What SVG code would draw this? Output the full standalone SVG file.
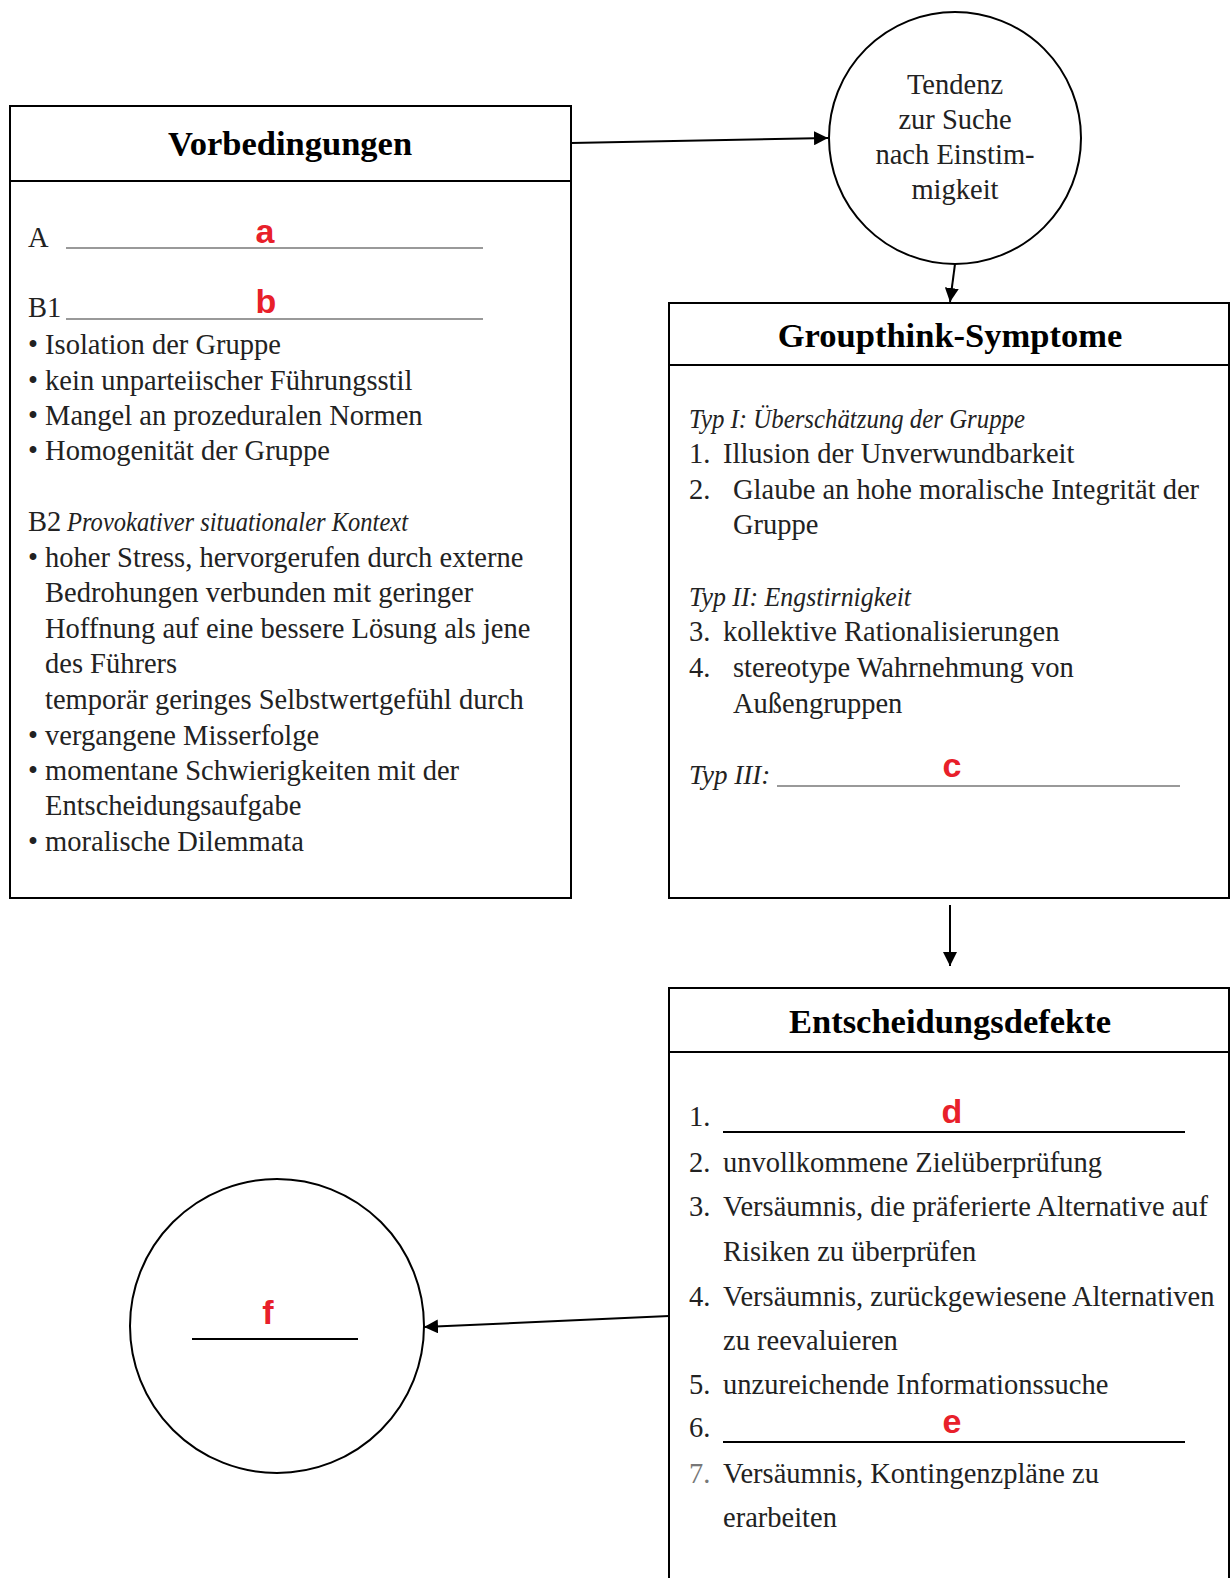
<svg xmlns="http://www.w3.org/2000/svg" width="1230" height="1578" viewBox="0 0 1230 1578">
<defs>
<marker id="arr" viewBox="0 0 10 10" refX="10" refY="5" markerWidth="14" markerHeight="14" markerUnits="userSpaceOnUse" orient="auto">
<path d="M0,0 L10,5 L0,10 z" fill="#000"/>
</marker>
<style>
.box{fill:#fff;stroke:#000;stroke-width:2}
.div{stroke:#000;stroke-width:2}
.hd{font-family:"Liberation Serif",serif;font-weight:bold;font-size:34.5px;fill:#000;text-anchor:middle}
.t{font-family:"Liberation Serif",serif;font-size:28.5px;fill:#222}
.it{font-style:italic;font-size:27px}
.g{fill:#777}
.red{font-family:"Liberation Sans",Arial,sans-serif;font-weight:bold;font-size:34px;fill:#e8202a;text-anchor:middle}
.ul{stroke:#777;stroke-width:1.3}
.ulb{stroke:#000;stroke-width:2.2}
.con{stroke:#000;stroke-width:2;fill:none;marker-end:url(#arr)}
.c{text-anchor:middle}
</style>
</defs>
<rect width="1230" height="1578" fill="#fff"/>

<g id="connectors">
<line class="con" x1="571" y1="143" x2="828" y2="138"/>
<line class="con" x1="955" y1="264" x2="950" y2="302"/>
<line class="con" x1="950" y1="905" x2="950" y2="966"/>
<line class="con" x1="669" y1="1316" x2="424" y2="1327"/>
</g>

<g id="vorbedingungen">
<rect class="box" x="10" y="106" width="561" height="792"/>
<line class="div" x1="10" y1="181" x2="571" y2="181"/>
<text class="hd" x="290" y="155">Vorbedingungen</text>
<text class="t" x="28" y="247">A</text>
<line class="ul" x1="66" y1="248" x2="483" y2="248"/>
<text class="red" x="265" y="243">a</text>
<text class="t" x="28" y="317">B1</text>
<line class="ul" x1="66" y1="319" x2="483" y2="319"/>
<text class="red" x="266" y="313">b</text>
<text class="t" x="28" y="354">• Isolation der Gruppe</text>
<text class="t" x="28" y="390">• kein unparteiischer Führungsstil</text>
<text class="t" x="28" y="425">• Mangel an prozeduralen Normen</text>
<text class="t" x="28" y="460">• Homogenität der Gruppe</text>
<text class="t" x="28" y="531">B2</text>
<text class="t it" x="67" y="531" textLength="341" lengthAdjust="spacingAndGlyphs">Provokativer situationaler Kontext</text>
<text class="t" x="28" y="567">• hoher Stress, hervorgerufen durch externe</text>
<text class="t" x="45" y="602">Bedrohungen verbunden mit geringer</text>
<text class="t" x="45" y="638">Hoffnung auf eine bessere Lösung als jene</text>
<text class="t" x="45" y="673">des Führers</text>
<text class="t" x="45" y="709">temporär geringes Selbstwertgefühl durch</text>
<text class="t" x="28" y="745">• vergangene Misserfolge</text>
<text class="t" x="28" y="780">• momentane Schwierigkeiten mit der</text>
<text class="t" x="45" y="815">Entscheidungsaufgabe</text>
<text class="t" x="28" y="851">• moralische Dilemmata</text>
</g>

<g id="tendenz">
<circle cx="955" cy="138" r="126" fill="#fff" stroke="#000" stroke-width="2"/>
<text class="t c" x="955" y="94">Tendenz</text>
<text class="t c" x="955" y="129">zur Suche</text>
<text class="t c" x="955" y="164">nach Einstim-</text>
<text class="t c" x="955" y="199">migkeit</text>
</g>

<g id="groupthink">
<rect class="box" x="669" y="303" width="560" height="595"/>
<line class="div" x1="669" y1="365" x2="1229" y2="365"/>
<text class="hd" x="950" y="347">Groupthink-Symptome</text>
<text class="t it" x="689" y="428" textLength="336" lengthAdjust="spacingAndGlyphs">Typ I: Überschätzung der Gruppe</text>
<text class="t" x="689" y="463">1.</text>
<text class="t" x="723" y="463">Illusion der Unverwundbarkeit</text>
<text class="t" x="689" y="499">2.</text>
<text class="t" x="733" y="499">Glaube an hohe moralische Integrität der</text>
<text class="t" x="733" y="534">Gruppe</text>
<text class="t it" x="689" y="606" textLength="222" lengthAdjust="spacingAndGlyphs">Typ II: Engstirnigkeit</text>
<text class="t" x="689" y="641">3.</text>
<text class="t" x="723" y="641">kollektive Rationalisierungen</text>
<text class="t" x="689" y="677">4.</text>
<text class="t" x="733" y="677">stereotype Wahrnehmung von</text>
<text class="t" x="733" y="713">Außengruppen</text>
<text class="t it" x="689" y="784">Typ III:</text>
<line class="ul" x1="777" y1="786" x2="1180" y2="786"/>
<text class="red" x="952" y="777">c</text>
</g>

<g id="entscheidungsdefekte">
<rect class="box" x="669" y="988" width="560" height="600"/>
<line class="div" x1="669" y1="1052" x2="1229" y2="1052"/>
<text class="hd" x="950" y="1033">Entscheidungsdefekte</text>
<text class="t" x="689" y="1126">1.</text>
<line class="ulb" x1="723" y1="1132" x2="1185" y2="1132"/>
<text class="red" x="952" y="1123">d</text>
<text class="t" x="689" y="1172">2.</text>
<text class="t" x="723" y="1172">unvollkommene Zielüberprüfung</text>
<text class="t" x="689" y="1216">3.</text>
<text class="t" x="723" y="1216">Versäumnis, die präferierte Alternative auf</text>
<text class="t" x="723" y="1261">Risiken zu überprüfen</text>
<text class="t" x="689" y="1306">4.</text>
<text class="t" x="723" y="1306">Versäumnis, zurückgewiesene Alternativen</text>
<text class="t" x="723" y="1350">zu reevaluieren</text>
<text class="t" x="689" y="1394">5.</text>
<text class="t" x="723" y="1394">unzureichende Informationssuche</text>
<text class="t" x="689" y="1437">6.</text>
<line class="ulb" x1="723" y1="1442" x2="1185" y2="1442"/>
<text class="red" x="952" y="1433">e</text>
<text class="t g" x="689" y="1483">7.</text>
<text class="t" x="723" y="1483">Versäumnis, Kontingenzpläne zu</text>
<text class="t" x="723" y="1527">erarbeiten</text>
</g>

<g id="ergebnis">
<circle cx="277" cy="1326" r="147" fill="#fff" stroke="#000" stroke-width="2"/>
<line class="ulb" x1="192" y1="1339" x2="358" y2="1339"/>
<text class="red" x="268" y="1324">f</text>
</g>
</svg>
